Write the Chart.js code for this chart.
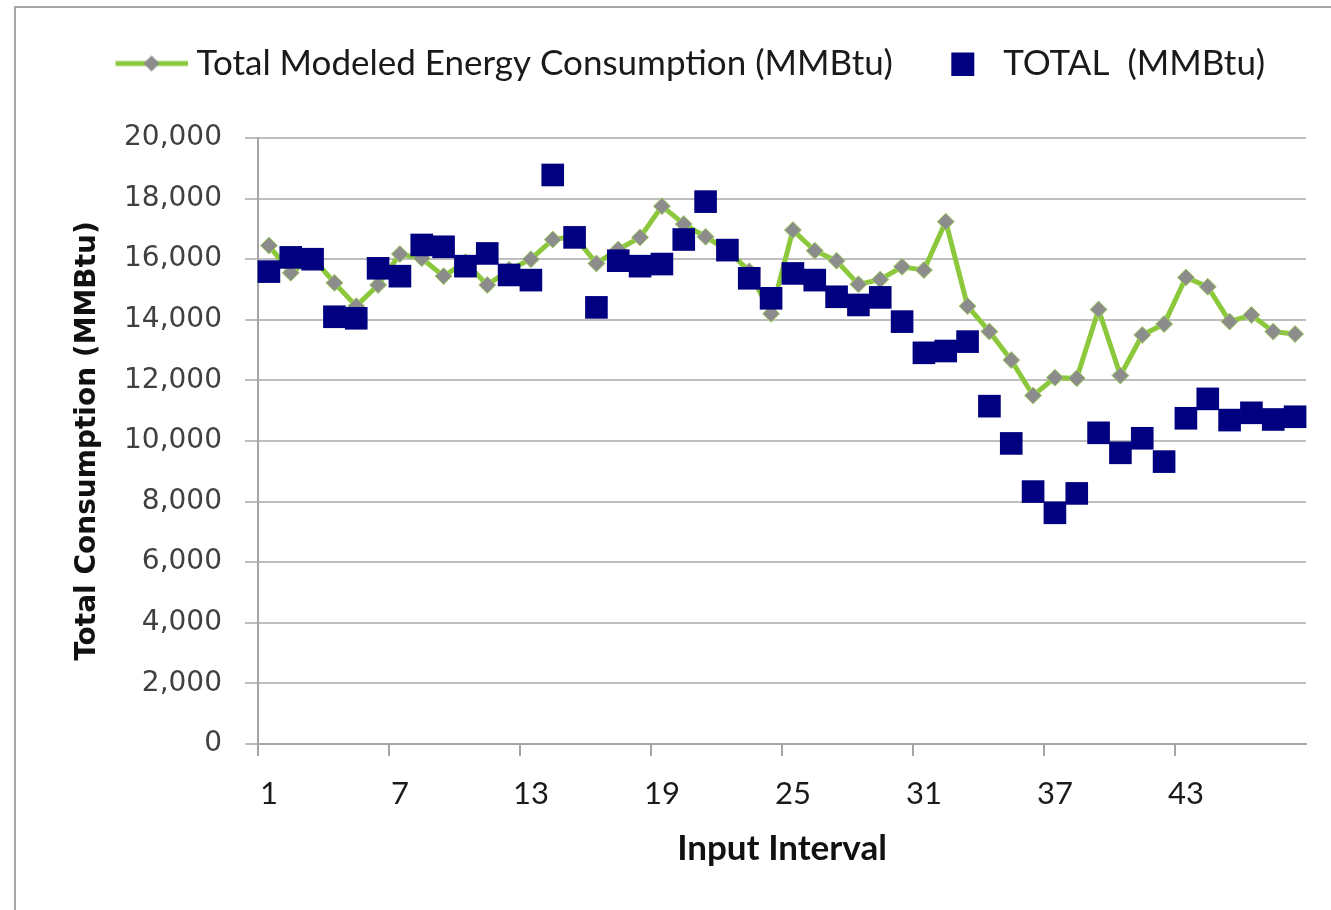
<!DOCTYPE html>
<html>
<head>
<meta charset="utf-8">
<script src="https://cdn.jsdelivr.net/npm/chart.js@4.4.1/dist/chart.umd.min.js"></script>
<style>
  html, body { margin: 0; padding: 0; background: #fff; overflow: hidden; }
  #frame { position: absolute; left: 14px; top: 6px; width: 1400px; height: 1000px;
           border-left: 2px solid #a6a6a6; border-top: 2px solid #a6a6a6; }
  #wrap { position: absolute; left: 0; top: 0; width: 1331px; height: 910px; }
</style>
</head>
<body>
<div id="frame"></div>
<div id="wrap"><canvas id="chart"></canvas></div>
<script>
const intervals = ['1','2','3','4','5','6','7','8','9','10','11','12','13','14','15','16',
    '17','18','19','20','21','22','23','24','25','26','27','28','29','30','31','32',
    '33','34','35','36','37','38','39','40','41','42','43','44','45','46','47','48'];

const modeled = [16450, 15550, 16050, 15220, 14450, 15150, 16170, 16030, 15440, 15900,
    15150, 15650, 16000, 16650, 16750, 15860, 16320, 16720, 17750, 17160,
    16740, 16300, 15600, 14200, 16960, 16280, 15950, 15170, 15330, 15750,
    15640, 17240, 14450, 13610, 12670, 11500, 12090, 12070, 14340, 12160,
    13500, 13860, 15400, 15090, 13940, 14160, 13610, 13530];

const total = [15590, 16060, 16000, 14100, 14050, 15700, 15440, 16470, 16410, 15770,
    16190, 15480, 15310, 18780, 16720, 14410, 15950, 15770, 15840, 16650,
    17900, 16300, 15370, 14710, 15530, 15310, 14760, 14490, 14740, 13940,
    12910, 12970, 13280, 11150, 9920, 8330, 7630, 8270, 10270, 9610,
    10090, 9320, 10750, 11390, 10690, 10930, 10710, 10800];

const seriesNames = ['Total Modeled Energy Consumption (MMBtu)', '  TOTAL  (MMBtu)'];

const green = '#8cc83c';
const navy = '#000080';
const gridGray = 'rgb(190,190,190)';
const axisGray = 'rgb(165,165,165)';

// legend icons: line with diamond, and square pushed to the right
function lineIcon() {
    const c = document.createElement('canvas');
    c.width = 80; c.height = 20;
    const ctx = c.getContext('2d');
    ctx.strokeStyle = green;
    ctx.lineWidth = 5;
    ctx.beginPath(); ctx.moveTo(8, 10); ctx.lineTo(80, 10); ctx.stroke();
    ctx.fillStyle = '#8c8c8c';
    ctx.beginPath();
    ctx.moveTo(44 - 8, 10); ctx.lineTo(44, 2); ctx.lineTo(44 + 8, 10); ctx.lineTo(44, 18);
    ctx.closePath(); ctx.fill();
    return c;
}
function squareIcon() {
    const c = document.createElement('canvas');
    c.width = 80; c.height = 24;
    const ctx = c.getContext('2d');
    ctx.fillStyle = navy;
    ctx.fillRect(55, 1, 23, 23);
    return c;
}
const legendIcons = [lineIcon(), squareIcon()];

const legendMargin = {
    id: 'legendMargin',
    beforeInit(chart) {
        const fit = chart.legend.fit;
        chart.legend.fit = function() {
            fit.bind(chart.legend)();
            this.height = 104;
        };
    },
    afterLayout(chart) {
        chart.legend.left += 2;
        chart.legend.right += 2;
    }
};

new Chart(document.getElementById('chart'), {
    type: 'line',
    data: {
        labels: intervals,
        datasets: [
            {
                label: seriesNames[0],
                data: modeled,
                borderColor: green,
                borderWidth: 5,
                pointStyle: 'rectRot',
                pointRadius: 8.5,
                pointBackgroundColor: '#8c8c8c',
                pointBorderColor: '#a2d25c',
                pointBorderWidth: 1,
                tension: 0,
                order: 1
            },
            {
                label: seriesNames[1],
                data: total,
                showLine: false,
                pointStyle: 'rect',
                pointRadius: 16,
                pointBackgroundColor: navy,
                pointBorderColor: navy,
                pointBorderWidth: 0,
                backgroundColor: navy,
                borderColor: navy,
                order: 0
            }
        ]
    },
    options: {
        responsive: true,
        maintainAspectRatio: false,
        animation: false,
        layout: { padding: { top: 34, left: 71, right: 25, bottom: 0 } },
        plugins: {
            tooltip: { enabled: false },
            legend: {
                position: 'top',
                labels: {
                    usePointStyle: true,
                    pointStyleWidth: 63,
                    padding: 12,
                    color: '#1a1a1a',
                    font: { family: 'Lato', size: 35 },
                    sort: (a, b) => a.datasetIndex - b.datasetIndex,
                    generateLabels(chart) {
                        const items = Chart.defaults.plugins.legend.labels.generateLabels(chart);
                        items.forEach(it => { it.pointStyle = legendIcons[it.datasetIndex]; });
                        return items;
                    }
                }
            }
        },
        scales: {
            x: {
                offset: true,
                afterFit(scale) { scale.height = 166; },
                grid: {
                    offset: true,
                    drawOnChartArea: false,
                    tickLength: 12,
                    lineWidth: 2,
                    color: (ctx) => ctx.index % 6 === 0 ? axisGray : 'rgba(0,0,0,0)'
                },
                border: { color: axisGray, width: 2 },
                ticks: {
                    autoSkip: false,
                    maxRotation: 0,
                    padding: 19,
                    color: '#1a1a1a',
                    font: { family: 'Lato', size: 31 },
                    callback: (v, i) => i % 6 === 0 ? intervals[i] : ''
                },
                title: {
                    display: true,
                    text: 'Input Interval',
                    color: '#111',
                    font: { family: 'Lato', size: 35, weight: 'bold' },
                    padding: { top: 0, bottom: 40 }
                }
            },
            y: {
                min: 0,
                max: 20000,
                afterFit(scale) { scale.width = 187; },
                grid: { color: gridGray, lineWidth: 2, tickLength: 13 },
                border: { color: axisGray, width: 2 },
                ticks: {
                    stepSize: 2000,
                    padding: 23,
                    color: '#404040',
                    font: { family: 'DejaVu Sans', size: 28 },
                    callback: (v) => v.toLocaleString('en-US')
                },
                title: {
                    display: true,
                    text: 'Total Consumption (MMBtu)',
                    color: '#111',
                    font: { family: 'DejaVu Sans', size: 28, weight: 'bold' },
                    padding: { top: 0, bottom: 0 }
                }
            }
        }
    },
    plugins: [legendMargin]
});
</script>
</body>
</html>
